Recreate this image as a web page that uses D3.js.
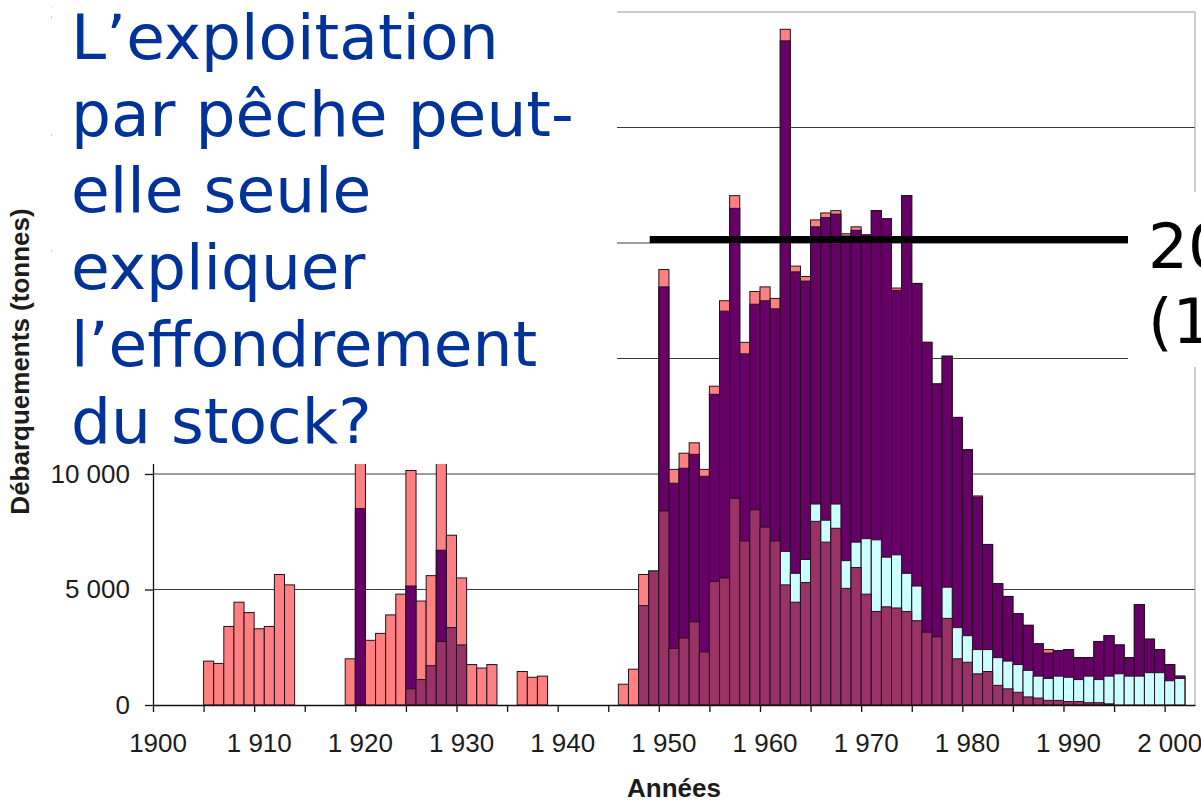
<!DOCTYPE html>
<html>
<head>
<meta charset="utf-8">
<script src="https://cdn.jsdelivr.net/npm/d3@7"></script>
<style>
  body { margin: 0; background: #fff; }
  svg { display: block; }
</style>
</head>
<body>
<svg id="chart" width="1201" height="800"></svg>
<script>
// landings by year (tonnes); each series starts at its own year
const years = d3.range(1900, 2003);

const totalStart = 1905;
const totalValues = [
  1900, 1800, 3400, 4450, 4000, 3300, 3400, 5650, 5200, 0,      // 1905-1914
  0, 0, 0, 0, 2000, 12500, 2800, 3100, 3900, 4800,               // 1915-1924
  10150, 4500, 5600, 11500, 7350, 5500, 1750, 1600, 1750, 0,     // 1925-1934
  0, 1450, 1200, 1250, 0, 0, 0, 0, 0, 0,                         // 1935-1944
  0, 900, 1550, 5650, 5800, 18850, 10200, 10900, 11350, 10200,   // 1945-1954
  13800, 17500, 22050, 15700, 17900, 18100, 17600, 29250, 19000, 18550, // 1955-1964
  21000, 21300, 21400, 20400, 20700, 20350, 21400, 21050, 18050, 22050, // 1965-1974
  18250, 15700, 13900, 15100, 12450, 11050, 9050, 6950, 5250, 4700,     // 1975-1984
  3950, 3450, 2650, 2400, 2350, 2400, 2050, 2050, 2750, 3000,           // 1985-1994
  2600, 2050, 4350, 2850, 2400, 1750, 1250                              // 1995-2001
];

const purpleStart = 1920;
const purpleValues = [
  8500, 0, 0, 0, 0, 5150, 0, 0, 6700, 0,                          // 1920-1929
  0, 0, 0, 0, 0, 0, 0, 0, 0, 0,                                   // 1930-1939
  0, 0, 0, 0, 0, 0, 0, 0, 0, 0,                                   // 1940-1949
  18100, 9600, 10250, 10850, 9900, 13450, 17050, 21500, 15200, 17350,   // 1950-1959
  17500, 17150, 28750, 18750, 18350, 20700, 21100, 21250, 20300, 20550, // 1960-1969
  20350, 21400, 21050, 17950, 22050, 18250, 15700, 13900, 15100, 12450, // 1970-1979
  11050, 9000, 6950, 5250, 4700, 3950, 3450, 2650, 2250, 2350,          // 1980-1989
  2400, 2050, 2050, 2750, 3000, 2600, 2050, 4350, 2850, 2400,           // 1990-1999
  1750, 1250                                                            // 2000-2001
];

const cyanStart = 1962;
const cyanValues = [
  6650, 5700, 6300, 8700, 8000, 8700, 6250, 7050,                 // 1962-1969
  7200, 7150, 6400, 6500, 5700, 5150, 0, 0, 5100, 3350,           // 1970-1979
  3000, 2400, 2400, 2050, 1900, 1750, 1500, 1250, 1150, 1250,     // 1980-1989
  1200, 1100, 1250, 1100, 1250, 1350, 1250, 1250, 1400, 1400,     // 1990-1999
  1050, 1150                                                      // 2000-2001
];

const maroonStart = 1925;
const maroonValues = [
  700, 1100, 1700, 2750, 3350,                                    // 1925-1929
  2600, 0, 0, 0, 0, 0, 0, 0, 0, 0,                                // 1930-1939
  0, 0, 0, 0, 0, 0, 0, 0, 4300, 5800,                             // 1940-1949
  8400, 2450, 2900, 3600, 2300, 5350, 5500, 8950, 7100, 8450,     // 1950-1959
  7700, 7100, 5200, 4450, 5300, 7950, 7050, 7650, 5050, 5950,     // 1960-1969
  4800, 4050, 4250, 4200, 4050, 3650, 3150, 2950, 3750, 2000,     // 1970-1979
  1850, 1350, 1450, 850, 700, 550, 350, 300, 200, 200,            // 1980-1989
  150, 150, 100, 100, 50, 0, 0, 0, 0, 0, 0, 0                     // 1990-2001
];

const yTicks = [0, 5000, 10000, 15000, 20000, 25000, 30000];
const xTickLabels = ["1900", "1 910", "1 920", "1 930", "1 940", "1 950",
                     "1 960", "1 970", "1 980", "1 990", "2 000"];
const titleLines = ["L’exploitation", "par pêche peut-", "elle seule",
                    "expliquer", "l’effondrement", "du stock?"];
const noteLines = ["20", "(1"];
const refLevel = 20150;

const series = [
  {name: "total",  color: "#ff8080", start: totalStart,  values: totalValues},
  {name: "purple", color: "#660066", start: purpleStart, values: purpleValues},
  {name: "cyan",   color: "#ccffff", start: cyanStart,   values: cyanValues},
  {name: "maroon", color: "#993366", start: maroonStart, values: maroonValues}
];

const svg = d3.select("#chart");
const margins = {top: 12, bottom: 95, left: 153, right: 6};
const width = 1201, height = 800;
const plotBottom = height - margins.bottom;
const plotRight = width - margins.right;
const labelFont = "'Liberation Sans', Arial, sans-serif";

const x = d3.scaleBand()
    .domain(years)
    .range([margins.left, plotRight])
    .padding(0);

// continuous twin of the band scale, for ticks between categories
const xl = d3.scaleLinear()
    .domain([1900, 2003])
    .range([margins.left, plotRight]);

const y = d3.scaleLinear()
    .domain([0, 30000])
    .range([plotBottom, margins.top]);

const fr = d3.formatLocale({decimal: ",", thousands: " ", grouping: [3], currency: ["", ""]});
const fmt = fr.format(",");

// gridlines
svg.append("g")
  .selectAll("line")
  .data(yTicks.slice(1))
  .enter()
  .append("line")
    .attr("x1", margins.left)
    .attr("x2", plotRight)
    .attr("y1", d => y(d))
    .attr("y2", d => y(d))
    .style("stroke", (d) => d === 30000 ? "#999" : "#3a3a3a")
    .style("stroke-width", 1);

svg.append("line")
    .attr("x1", plotRight).attr("x2", plotRight)
    .attr("y1", y(30000)).attr("y2", y(0))
    .style("stroke", "#9a9a9a")
    .style("stroke-width", 1);

// overlapping bars, each one from zero
const barLayer = svg.append("g").attr("id", "bars");
series.forEach((s) => {
  const rows = years
    .map((yr) => ({year: yr, value: s.values[yr - s.start] || 0}))
    .filter((d) => d.year >= s.start && d.value > 0);

  barLayer.append("g")
    .attr("class", "series-" + s.name)
    .selectAll("rect")
    .data(rows)
    .enter()
    .append("rect")
      .attr("x", d => x(d.year))
      .attr("y", d => y(d.value))
      .attr("width", x.bandwidth())
      .attr("height", d => y(0) - y(d.value))
      .style("fill", s.color)
      .style("stroke", "#241020")
      .style("stroke-width", 1);
});

// axes
const yAxis = svg.append("g")
    .attr("transform", `translate(${margins.left}, 0)`)
    .call(d3.axisLeft(y).tickValues(yTicks).tickFormat(fmt).tickSize(8).tickPadding(15).tickSizeOuter(0));

const xTicks = svg.append("g")
    .attr("transform", `translate(0, ${plotBottom})`)
    .call(d3.axisBottom(xl).tickValues(d3.range(1900, 2001, 5)).tickFormat("").tickSize(7).tickSizeOuter(0));

const decades = d3.range(1900, 2001, 10);
const xLabels = svg.append("g")
    .attr("transform", `translate(0, ${plotBottom})`)
    .call(d3.axisBottom(x).tickValues(decades).tickFormat((d, i) => xTickLabels[i]).tickSize(0).tickPadding(29));
xLabels.select(".domain").remove();

[yAxis, xTicks].forEach((g) => {
  g.select(".domain").style("stroke", "#111").style("stroke-width", 1.3);
  g.selectAll(".tick line").style("stroke", "#111").style("stroke-width", 1.3);
});
[yAxis, xLabels].forEach((g) => {
  g.selectAll("text")
    .style("font-family", labelFont)
    .style("font-size", "26px")
    .style("fill", "#1c1c1c");
});

// axis titles
svg.append("text")
    .attr("text-anchor", "middle")
    .attr("transform", `translate(${(margins.left + plotRight) / 2}, 797)`)
    .style("font-family", labelFont)
    .style("font-weight", "bold")
    .style("font-size", "26px")
    .style("fill", "#1c1c1c")
    .text("Années");

svg.append("text")
    .attr("text-anchor", "middle")
    .attr("transform", `translate(29, ${(margins.top + plotBottom) / 2 + 3})rotate(-90)`)
    .style("font-family", labelFont)
    .style("font-weight", "bold")
    .style("font-size", "26px")
    .style("fill", "#1c1c1c")
    .text("Débarquements (tonnes)");

// slide overlay: question box on the left
svg.append("rect")
    .attr("x", 52).attr("y", 0)
    .attr("width", 565).attr("height", 464)
    .style("fill", "#fff");

svg.append("g")
  .selectAll("text")
  .data(titleLines)
  .enter()
  .append("text")
    .attr("x", 71)
    .attr("y", (d, i) => 59 + i * 76.7)
    .style("font-family", "'DejaVu Sans', sans-serif")
    .style("font-size", "63px")
    .style("fill", "#003399")
    .text(d => d);

// reference level and its label on the right
svg.append("line")
    .attr("x1", xl(1949.1))
    .attr("x2", 1128)
    .attr("y1", y(refLevel))
    .attr("y2", y(refLevel))
    .style("stroke", "#000")
    .style("stroke-width", 7);

svg.append("rect")
    .attr("x", 1128).attr("y", 192)
    .attr("width", 80).attr("height", 175)
    .style("fill", "#fff");

svg.append("g")
  .selectAll("text")
  .data(noteLines)
  .enter()
  .append("text")
    .attr("x", 1148)
    .attr("y", (d, i) => 268 + i * 75)
    .style("font-family", "'DejaVu Sans', sans-serif")
    .style("font-size", "63px")
    .style("fill", "#000")
    .text(d => d);
</script>
</body>
</html>
